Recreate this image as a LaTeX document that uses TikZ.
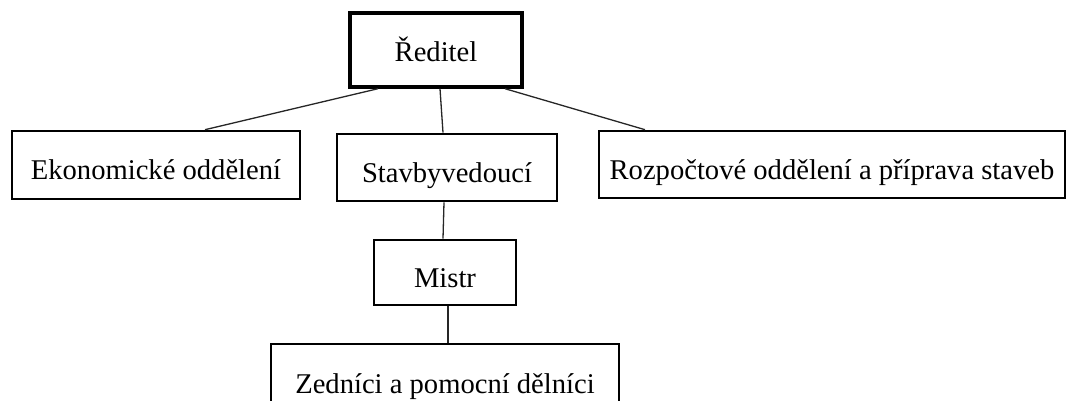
\documentclass[tikz,border=0pt]{standalone}
\usepackage{fontspec}
\setmainfont{Liberation Serif}
\begin{document}
\begin{tikzpicture}[x=1pt,y=-1pt,
  box/.style={draw=black,line width=2.6pt,inner sep=0pt,text height=34pt,text depth=4pt,font=\fontsize{28.6}{32}\selectfont},
  conn/.style={draw=black!85,line width=1.3pt}]
\useasboundingbox (0,0) rectangle (1069,401);
\clip (0,0) rectangle (1069,401);
\node[box,line width=3.4pt,text height=28pt,minimum width=172pt,minimum height=74pt] (red) at (436,50) {Ředitel};
\node[box,minimum width=288pt,minimum height=68pt] (eko) at (156,165) {Ekonomické oddělení};
\node[box,minimum width=220pt,minimum height=67pt] (stav) at (447,167.5) {Stavbyvedoucí};
\node[box,minimum width=466pt,minimum height=67pt] (roz) at (832,164.5) {Rozpočtové oddělení a příprava staveb};
\node[box,minimum width=142pt,minimum height=65pt] (mistr) at (445,272.5) {Mistr};
\node[box,minimum width=348pt,minimum height=68pt] (zed) at (445,378) {Zedníci a pomocní dělníci};
\draw[conn] ([xshift=-58pt]red.south) -- ([xshift=49pt]eko.north);
\draw[conn] ([xshift=4pt]red.south) -- ([xshift=-4pt]stav.north);
\draw[conn] ([xshift=69pt]red.south) -- ([xshift=-187pt]roz.north);
\draw[conn] ([xshift=-3pt]stav.south) -- ([xshift=-2pt]mistr.north);
\draw[conn] ([xshift=3pt]mistr.south) -- ([xshift=3pt]zed.north);
\end{tikzpicture}
\end{document}
